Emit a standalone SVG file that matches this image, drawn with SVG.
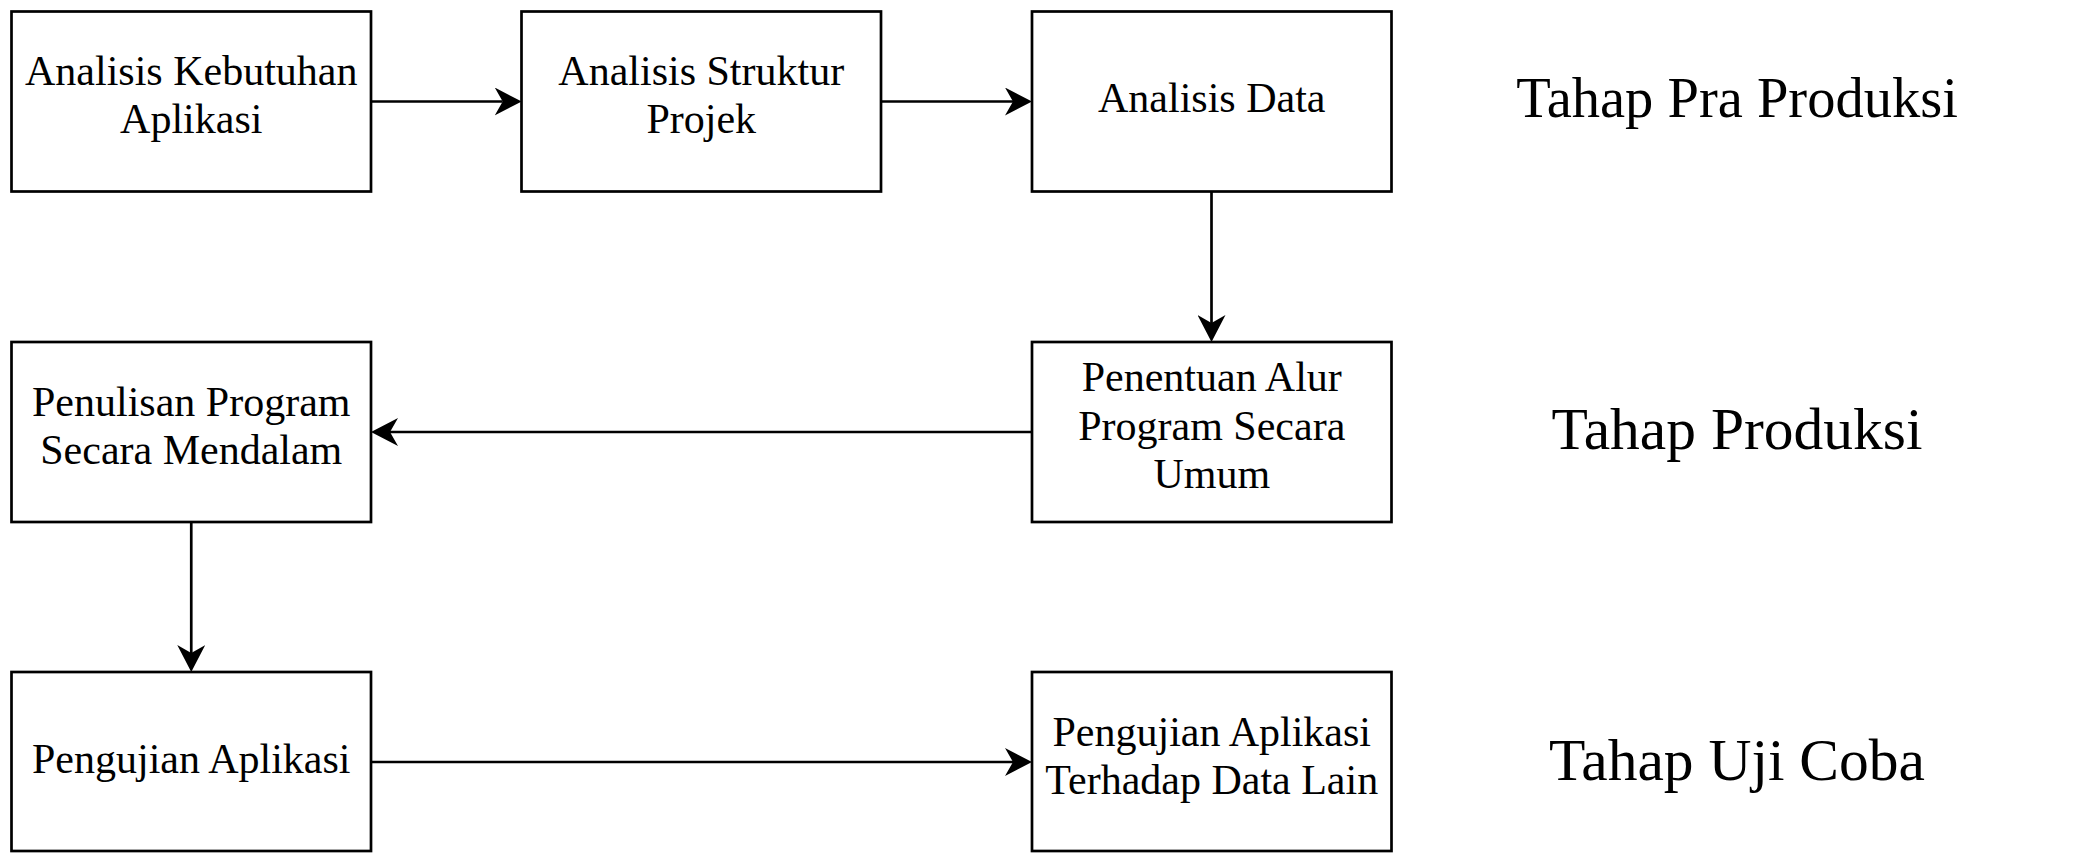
<svg xmlns="http://www.w3.org/2000/svg" width="2093" height="863" viewBox="0 0 2093 863">
<style>
.box{fill:#fff;stroke:#000;stroke-width:2.7}
.t{font-family:"Liberation Serif","Times New Roman",serif;font-size:42px;fill:#000;text-anchor:middle}
.big{font-family:"Liberation Serif","Times New Roman",serif;font-size:56.5px;fill:#000;text-anchor:middle}
.big2{font-size:59.5px}
.edge{fill:none;stroke:#000;stroke-width:2.7}
</style>
<defs>
<marker id="arr" markerUnits="userSpaceOnUse" viewBox="0 0 27 28" markerWidth="27" markerHeight="28" refX="8" refY="14" orient="auto">
<path d="M27,14 L0,0 L8,14 L0,28 Z" fill="#000"/>
</marker>
</defs>
<rect width="2093" height="863" fill="#fff"/>
<g id="connectors">
<path class="edge" d="M371,101.5 H502.7" marker-end="url(#arr)"/>
<path class="edge" d="M881,101.5 H1013" marker-end="url(#arr)"/>
<path class="edge" d="M1211.5,191.5 V323" marker-end="url(#arr)"/>
<path class="edge" d="M1032,432 H390" marker-end="url(#arr)"/>
<path class="edge" d="M191.25,522 V653" marker-end="url(#arr)"/>
<path class="edge" d="M371,762 H1013" marker-end="url(#arr)"/>
</g>
<g id="n1">
<rect class="box" x="11.5" y="11.5" width="359.5" height="180"/>
<text class="t" x="191.25" y="85">Analisis Kebutuhan</text>
<text class="t" x="191.25" y="133.3">Aplikasi</text>
</g>
<g id="n2">
<rect class="box" x="521.5" y="11.5" width="359.5" height="180"/>
<text class="t" x="701.25" y="85">Analisis Struktur</text>
<text class="t" x="701.25" y="133.3">Projek</text>
</g>
<g id="n3">
<rect class="box" x="1032" y="11.5" width="359.5" height="180"/>
<text class="t" x="1211.75" y="112">Analisis Data</text>
</g>
<g id="n4">
<rect class="box" x="11.5" y="342" width="359.5" height="180"/>
<text class="t" x="191.25" y="415.5">Penulisan Program</text>
<text class="t" x="191.25" y="463.8">Secara Mendalam</text>
</g>
<g id="n5">
<rect class="box" x="1032" y="342" width="359.5" height="180"/>
<text class="t" x="1211.75" y="391.4">Penentuan Alur</text>
<text class="t" x="1211.75" y="439.7">Program Secara</text>
<text class="t" x="1211.75" y="488">Umum</text>
</g>
<g id="n6">
<rect class="box" x="11.5" y="672" width="359.5" height="179"/>
<text class="t" x="191.25" y="772.5">Pengujian Aplikasi</text>
</g>
<g id="n7">
<rect class="box" x="1032" y="672" width="359.5" height="179"/>
<text class="t" x="1211.75" y="745.5">Pengujian Aplikasi</text>
<text class="t" x="1211.75" y="793.8">Terhadap Data Lain</text>
</g>
<g id="labels">
<text class="big" x="1737" y="117">Tahap Pra Produksi</text>
<text class="big big2" x="1737" y="449">Tahap Produksi</text>
<text class="big big2" x="1737" y="779.5">Tahap Uji Coba</text>
</g>
</svg>
